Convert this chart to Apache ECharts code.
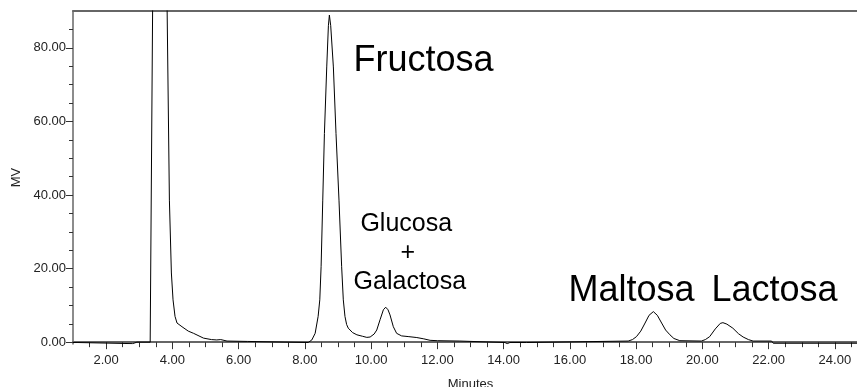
<!DOCTYPE html>
<html>
<head>
<meta charset="utf-8">
<script src="https://cdn.jsdelivr.net/npm/echarts@6/dist/echarts.min.js"></script>
<style>
  html, body { margin: 0; padding: 0; background: #fff; }
  #chart { width: 857px; height: 387px; }
</style>
</head>
<body>
<div id="chart"></div>
<script>
// Chromatogram trace: retention time (min) and detector signal (mV)
const retentionMin = [
  1.00, 1.15, 1.20, 2.80, 2.86, 2.93, 3.33, 3.35, 3.57, 3.91, 3.97, 4.02, 4.08, 4.14,
  4.29, 4.48, 4.64, 4.94, 5.18, 5.34, 5.39, 5.46, 5.65, 6.27, 6.30,
  8.10, 8.21, 8.31, 8.40, 8.45, 8.49, 8.54, 8.59, 8.66, 8.71, 8.74, 8.78, 8.86, 8.94,
  9.03, 9.11, 9.16, 9.21, 9.26, 9.31, 9.44, 9.57, 9.74, 9.87, 9.97, 10.02, 10.09,
  10.17, 10.27, 10.37, 10.44, 10.51, 10.57, 10.67, 10.77, 10.92, 11.14, 11.38, 11.59,
  11.78, 12.00, 12.68, 12.71, 14.04, 14.11, 14.19, 14.69, 14.71,
  17.76, 17.89, 18.01, 18.14, 18.27, 18.39, 18.52, 18.64, 18.77, 18.89, 19.02, 19.14,
  19.32, 19.97, 20.09, 20.22, 20.39, 20.54, 20.62, 20.74, 20.92, 21.09, 21.23, 21.39,
  21.53, 22.09, 22.14, 25.00
];
const signalMV = [
  -0.1, -0.1, -0.4, -0.4, -0.6, 0.0, 0.0, 0.5, 296, 38.6, 18.8, 11.5, 7.0, 5.2,
  4.2, 3.0, 2.4, 1.1, 0.7, 0.6, 1.1, 0.7, 0.3, 0.2, -0.1,
  -0.1, 0.6, 2.4, 7.0, 11.5, 20.5, 38.6, 56.7, 74.8, 86.0, 88.9, 86.0, 74.8, 56.7,
  38.6, 20.5, 11.5, 7.0, 4.8, 3.8, 2.6, 2.0, 1.6, 1.3, 1.4, 1.6, 2.2,
  3.3, 6.1, 8.8, 9.5, 8.8, 7.4, 4.2, 2.4, 1.7, 1.5, 1.25, 0.9,
  0.5, 0.4, 0.3, -0.1, -0.1, -0.4, -0.1, -0.1, 0.3,
  0.3, 0.7, 1.5, 3.0, 5.2, 7.3, 8.3, 7.3, 5.2, 3.3, 2.0, 1.0,
  0.4, 0.3, 0.7, 1.5, 3.6, 5.1, 5.3, 4.9, 3.8, 2.3, 1.4, 0.7,
  0.3, 0.3, -0.3, -0.3
];

// Axis ticks and labels
const xMajorTicks = [2, 4, 6, 8, 10, 12, 14, 16, 18, 20, 22, 24];
const xMinorTicks = [];
for (let t = 1.5; t <= 24.5; t += 0.5) xMinorTicks.push(t);
const yMajorTicks = [0, 20, 40, 60, 80];
const yMinorTicks = [0, 5, 10, 15, 20, 25, 30, 35, 40, 45, 50, 55, 60, 65, 70, 75, 80, 85];

// Peak annotations
const peakNames = ['Fructosa', 'Glucosa', '+', 'Galactosa', 'Maltosa', 'Lactosa'];

const FONT = '"Liberation Sans", Arial, Helvetica, sans-serif';
const AXIS_COLOR = '#666';
const TICK_COLOR = '#333';

const chart = echarts.init(document.getElementById('chart'), null, { renderer: 'canvas' });

const xBase = { type: 'value', min: 1, max: 25, gridIndex: 0, splitLine: { show: false } };
const yBase = { type: 'value', min: -0.5, max: 90, gridIndex: 0, splitLine: { show: false } };

const option = {
  animation: false,
  backgroundColor: '#fff',
  textStyle: { fontFamily: FONT },
  // the time axis runs on to 25 min, slightly past the right edge of the canvas
  grid: { left: 73, width: 795, top: 11, bottom: 43, containLabel: false, outerBoundsMode: 'none' },
  xAxis: [
    Object.assign({}, xBase, {
      position: 'bottom',
      axisLine: { show: true, lineStyle: { color: AXIS_COLOR, width: 2 } },
      axisTick: { show: true, length: 5, customValues: xMinorTicks, lineStyle: { color: TICK_COLOR, width: 1 } },
      axisLabel: {
        customValues: xMajorTicks, margin: 10, fontSize: 13, color: '#222', fontFamily: FONT,
        formatter: v => v.toFixed(2)
      },
      name: 'Minutes', nameLocation: 'middle', nameGap: 34,
      nameTextStyle: { fontSize: 13, color: '#222', fontFamily: FONT }
    }),
    Object.assign({}, xBase, {
      position: 'bottom',
      axisLine: { show: false },
      axisTick: { show: true, length: 7, customValues: xMajorTicks, lineStyle: { color: TICK_COLOR, width: 1 } },
      axisLabel: { show: false }
    }),
    Object.assign({}, xBase, {
      position: 'top',
      axisLine: { show: true, lineStyle: { color: AXIS_COLOR, width: 2 } },
      axisTick: { show: false },
      axisLabel: { show: false }
    })
  ],
  yAxis: [
    Object.assign({}, yBase, {
      position: 'left',
      axisLine: { show: true, lineStyle: { color: AXIS_COLOR, width: 1.5 } },
      axisTick: { show: true, length: 4, customValues: yMinorTicks, lineStyle: { color: TICK_COLOR, width: 1 } },
      axisLabel: {
        customValues: yMajorTicks, margin: 7, fontSize: 13, color: '#222', fontFamily: FONT,
        formatter: v => v.toFixed(2)
      },
      name: 'MV', nameLocation: 'middle', nameGap: 44,
      nameTextStyle: { fontSize: 13, color: '#222', fontFamily: FONT }
    }),
    Object.assign({}, yBase, {
      position: 'left',
      axisLine: { show: false },
      axisTick: { show: true, length: 7, customValues: yMajorTicks, lineStyle: { color: TICK_COLOR, width: 1 } },
      axisLabel: { show: false }
    })
  ],
  series: [{
    type: 'line',
    xAxisIndex: 0,
    yAxisIndex: 0,
    data: retentionMin.map((t, i) => [t, signalMV[i]]),
    showSymbol: false,
    symbol: 'none',
    clip: true,
    lineStyle: { color: '#000', width: 1 }
  }]
};
chart.setOption(option);

// Peak labels, anchored at data coordinates
const labelSpecs = [
  { name: peakNames[0], at: [11.58, 76.3], size: 36 },
  { name: peakNames[1], at: [11.06, 32.2], size: 25 },
  { name: peakNames[2], at: [11.11, 24.1], size: 25 },
  { name: peakNames[3], at: [11.17, 16.2], size: 25 },
  { name: peakNames[4], at: [17.86, 13.9], size: 36 },
  { name: peakNames[5], at: [22.18, 13.9], size: 36 }
];
chart.setOption({
  graphic: labelSpecs.map(s => {
    const p = chart.convertToPixel({ xAxisIndex: 0, yAxisIndex: 0 }, s.at);
    return {
      type: 'text', x: p[0], y: p[1], silent: true,
      style: {
        text: s.name, fill: '#000', font: s.size + 'px ' + FONT,
        align: 'center', verticalAlign: 'middle'
      }
    };
  })
});
</script>
</body>
</html>
